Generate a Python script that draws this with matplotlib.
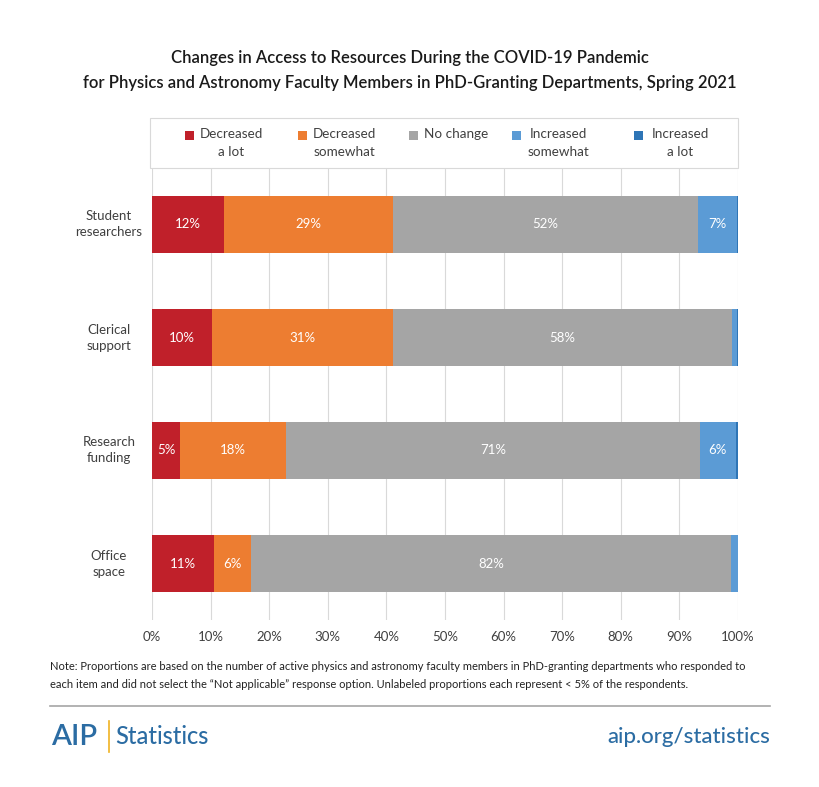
import matplotlib
matplotlib.use("Agg")
import matplotlib.pyplot as plt
import matplotlib.transforms as mtransforms
from matplotlib.patches import Rectangle
from matplotlib.lines import Line2D

categories = ["Student\nresearchers", "Clerical\nsupport", "Research\nfunding", "Office\nspace"]
series_names = ["Decreased\na lot", "Decreased\nsomewhat", "No change", "Increased\nsomewhat", "Increased\na lot"]
dec_lot = [12.3, 10.2, 4.8, 10.6]
dec_some = [28.8, 30.9, 18.1, 6.3]
no_change = [52.1, 57.8, 70.6, 81.9]
inc_some = [6.6, 0.9, 6.1, 1.2]
inc_lot = [0.2, 0.2, 0.4, 0.0]
labels = [
    ["12%", "10%", "5%", "11%"],
    ["29%", "31%", "18%", "6%"],
    ["52%", "58%", "71%", "82%"],
    ["7%", "", "6%", ""],
    ["", "", "", ""],
]
xticks = [0, 10, 20, 30, 40, 50, 60, 70, 80, 90, 100]
xticklabels = [f"{t}%" for t in xticks]

colors = ["#C0202A", "#ED7D31", "#A5A5A5", "#5B9BD5", "#2E75B6"]
series = [dec_lot, dec_some, no_change, inc_some, inc_lot]

plt.rcParams['font.family'] = ['Lato', 'DejaVu Sans']

W, H = 820, 787
fig = plt.figure(figsize=(W / 100, H / 100), dpi=100)

def fx(px):
    return px / W

def fy(py):
    return 1 - py / H

ax_l, ax_r, ax_t, ax_b = 152, 738, 168, 620
ax = fig.add_axes([fx(ax_l), fy(ax_b), fx(ax_r - ax_l), (ax_b - ax_t) / H])

ypos = list(range(len(categories)))
left = [0.0] * len(categories)
for vals, col, labs in zip(series, colors, labels):
    ax.barh(ypos, vals, left=left, height=0.51, color=col, zorder=3)
    for y, v, l0, lab in zip(ypos, vals, left, labs):
        if lab:
            ax.text(l0 + v / 2, y, lab, ha="center", va="center", color="white",
                    fontsize=9.5, zorder=4)
    left = [a + b for a, b in zip(left, vals)]

ax.set_xlim(0, 100)
ax.set_ylim(len(categories) - 0.5, -0.5)
ax.set_yticks(ypos)
ax.set_yticklabels([])
blend = mtransforms.blended_transform_factory(fig.transFigure, ax.transData)
for y, cat in zip(ypos, categories):
    ax.text(fx(109), y, cat, transform=blend, ha="center", va="center",
            multialignment="center", fontsize=9.5, color="#404040", linespacing=1.4)
ax.set_xticks(xticks)
ax.set_xticklabels(xticklabels, fontsize=9.5, color="#404040")
ax.tick_params(axis="both", length=0, pad=8)
ax.grid(axis="x", color="#D9D9D9", linewidth=0.8, zorder=0)
ax.grid(axis="y", visible=False)
for s in ax.spines.values():
    s.set_visible(False)

# legend box (manual)
fig.add_artist(Rectangle((fx(150), fy(168)), fx(738 - 150), (168 - 118) / H,
                         transform=fig.transFigure, facecolor="white",
                         edgecolor="#D9D9D9", linewidth=0.8, zorder=5))
handle_x = [189, 302, 413, 516, 638]
text_cx = [231.5, 344, 447.5, 558, 680]
for hx, tx, name, col in zip(handle_x, text_cx, series_names, colors):
    fig.add_artist(Rectangle((fx(hx - 4), fy(139.5)), fx(9), 9 / H, transform=fig.transFigure,
                             facecolor=col, edgecolor="none", zorder=6))
    if "\n" in name:
        fig.text(fx(tx), fy(128.5), name, ha="center", va="top", multialignment="center",
                 fontsize=9.7, color="#404040", linespacing=1.55, zorder=6)
    else:
        fig.text(fx(hx + 11), fy(128.5), name, ha="left", va="top",
                 fontsize=9.7, color="#404040", zorder=6)

# title
fig.text(0.5, fy(58), "Changes in Access to Resources During the COVID-19 Pandemic",
         ha="center", va="center", fontsize=12, color="#1a1a1a", fontweight="semibold")
fig.text(0.5, fy(83), "for Physics and Astronomy Faculty Members in PhD-Granting Departments, Spring 2021",
         ha="center", va="center", fontsize=12, color="#1a1a1a", fontweight="semibold")

# note
fig.text(fx(50), fy(667), "Note: Proportions are based on the number of active physics and astronomy faculty members in PhD-granting departments who responded to",
         ha="left", va="center", fontsize=8, color="#222222")
fig.text(fx(50), fy(684), "each item and did not select the \u201cNot applicable\u201d response option. Unlabeled proportions each represent < 5% of the respondents.",
         ha="left", va="center", fontsize=8, color="#222222")

fig.add_artist(Line2D([fx(50), fx(770)], [fy(706), fy(706)], color="#A6A6A6", linewidth=1.2))

blue = "#2B6CA3"
fig.text(fx(51), fy(737), "AIP", ha="left", va="center", fontsize=21, color=blue, fontweight="semibold")
fig.add_artist(Line2D([fx(109), fx(109)], [fy(721), fy(752)], color="#F0B323", linewidth=1.2))
fig.text(fx(115), fy(737), "Statistics", ha="left", va="center", fontsize=17, color=blue, fontweight="medium")
fig.text(fx(770), fy(737), "aip.org/statistics", ha="right", va="center", fontsize=16, color=blue, fontweight="medium")

fig.savefig("out.png", dpi=100)
